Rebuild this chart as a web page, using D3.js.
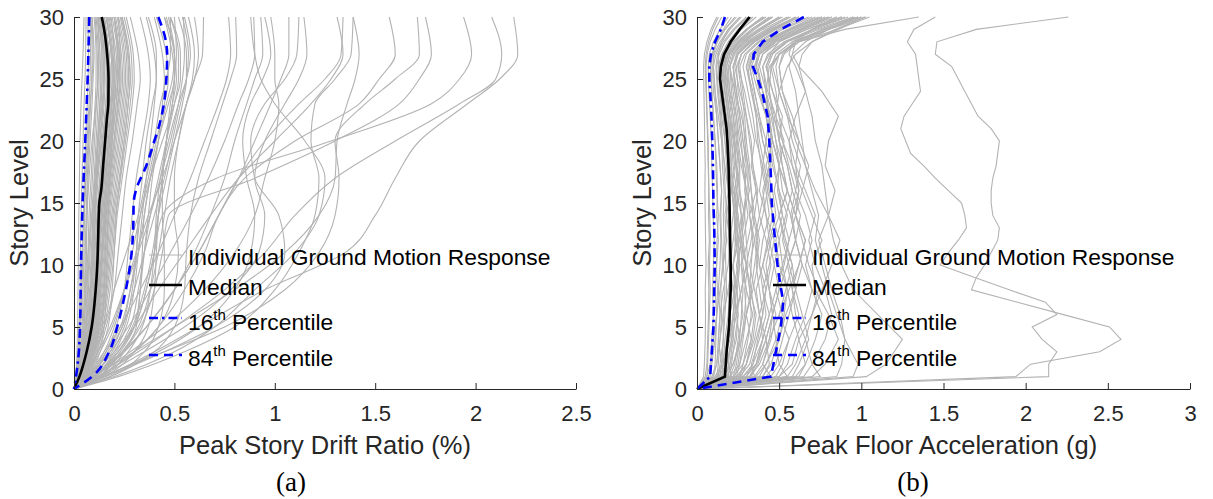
<!DOCTYPE html>
<html><head><meta charset="utf-8">
<script src="https://cdn.jsdelivr.net/npm/d3@7/dist/d3.min.js"></script>
<style>
html,body{margin:0;padding:0;background:#fff;}
svg{display:block;}
</style></head>
<body>
<svg id="chart" width="1213" height="499"></svg>
<script>
// ---------------- DATA ----------------
const storyTicks = [0,5,10,15,20,25,30];
const storyTickLabels = ["0","5","10","15","20","25","30"];
const driftTicks = [0,0.5,1,1.5,2,2.5];
const driftTickLabels = ["0","0.5","1","1.5","2","2.5"];
const accelTicks = [0,0.5,1,1.5,2,2.5,3];
const accelTickLabels = ["0","0.5","1","1.5","2","2.5","3"];

// (a) Peak story drift ratio (%) — individual ground motions, at these story levels
const driftLevels = [0,1,3,5,8,11,14,17,20,23,25,27,30];
const driftBand = [
  [0,.01,.015,.018,.02,.022,.024,.027,.03,.035,.04,.045,.05],
  [0,.012,.02,.025,.03,.032,.035,.04,.045,.05,.055,.058,.06],
  [0,.012,.025,.033,.04,.044,.047,.052,.058,.066,.07,.072,.068],
  [0,.015,.03,.04,.045,.05,.052,.058,.065,.075,.08,.082,.08],
  [0,.016,.032,.044,.052,.056,.06,.066,.074,.083,.088,.09,.085],
  [0,.018,.035,.05,.058,.062,.065,.07,.08,.09,.095,.1,.09],
  [0,.02,.04,.055,.065,.07,.075,.085,.095,.105,.11,.11,.1],
  [0,.021,.042,.058,.068,.075,.082,.092,.102,.112,.118,.116,.105],
  [0,.022,.045,.062,.072,.08,.088,.1,.11,.12,.125,.122,.11],
  [0,.024,.048,.066,.078,.086,.094,.105,.116,.128,.133,.13,.115],
  [0,.025,.05,.07,.082,.09,.1,.11,.122,.135,.14,.138,.12],
  [0,.027,.054,.074,.086,.095,.104,.115,.128,.142,.148,.145,.126],
  [0,.028,.058,.078,.09,.1,.108,.12,.135,.15,.155,.15,.13],
  [0,.029,.06,.082,.096,.105,.114,.128,.142,.158,.163,.158,.138],
  [0,.03,.062,.085,.1,.11,.12,.135,.15,.165,.17,.165,.145],
  [0,.031,.065,.089,.105,.115,.125,.141,.158,.172,.18,.175,.152],
  [0,.032,.068,.092,.11,.12,.13,.148,.165,.18,.19,.185,.16],
  [0,.034,.071,.096,.114,.125,.136,.154,.171,.188,.195,.19,.165],
  [0,.035,.075,.1,.118,.13,.142,.16,.178,.195,.2,.195,.17],
  [0,.036,.078,.104,.123,.135,.147,.165,.184,.202,.209,.202,.175],
  [0,.038,.08,.108,.128,.14,.152,.17,.19,.21,.218,.21,.18],
  [0,.039,.082,.111,.131,.145,.158,.177,.198,.217,.226,.219,.19],
  [0,.04,.085,.115,.135,.15,.165,.185,.205,.225,.235,.228,.2],
  [0,.041,.087,.117,.14,.155,.17,.19,.212,.232,.242,.236,.207],
  [0,.042,.09,.12,.145,.16,.175,.195,.22,.24,.25,.245,.215],
  [0,.044,.092,.124,.15,.166,.181,.202,.227,.247,.257,.252,.222],
  [0,.045,.095,.128,.155,.172,.188,.21,.235,.255,.265,.26,.23],
  [0,.047,.097,.13,.16,.178,.194,.217,.242,.262,.272,.267,.235],
  [0,.05,.1,.135,.165,.185,.2,.225,.25,.27,.28,.275,.24],
  [0,.052,.105,.142,.172,.192,.207,.232,.257,.28,.29,.285,.25],
  [0,.055,.11,.15,.18,.2,.215,.24,.265,.29,.3,.295,.26],
  [0,.06,.12,.16,.2,.22,.24,.26,.29,.315,.33,.32,.28],
  [0,.05,.12,.15,.16,.165,.17,.18,.19,.2,.2,.19,.16],
  [0,.03,.05,.06,.08,.1,.12,.15,.18,.2,.22,.23,.22],
  [0,.02,.04,.05,.06,.07,.09,.11,.14,.16,.17,.17,.15],
  [0,.04,.07,.09,.1,.1,.105,.11,.12,.13,.14,.14,.12],
  [0,.06,.1,.12,.13,.14,.15,.16,.17,.185,.19,.185,.16],
  [0,.025,.06,.09,.12,.14,.16,.18,.2,.22,.23,.225,.2],
  [0,.015,.025,.03,.035,.04,.05,.06,.07,.08,.09,.095,.09],
  [0,.035,.065,.08,.09,.095,.1,.115,.13,.145,.15,.15,.13],
  [0,.07,.13,.17,.19,.2,.21,.23,.25,.27,.28,.27,.24],
  [0,.02,.035,.045,.055,.06,.065,.075,.09,.11,.12,.125,.12],
  [0,.03,.07,.1,.125,.14,.155,.17,.185,.2,.21,.215,.2],
  [0,.045,.08,.1,.11,.115,.12,.13,.145,.16,.165,.16,.14],
  [0,.02,.05,.075,.1,.12,.14,.16,.175,.19,.2,.2,.185],
  [0,.05,.09,.11,.12,.125,.135,.15,.16,.175,.18,.175,.15],
  [0,.065,.115,.14,.15,.155,.16,.175,.19,.21,.22,.22,.2],
  [0,.038,.06,.075,.085,.09,.095,.105,.12,.14,.15,.155,.145]
];
const driftMid = [
  [0,.08,.16,.21,.25,.27,.29,.31,.34,.37,.38,.37,.33],
  [0,.09,.19,.25,.29,.31,.32,.34,.36,.39,.41,.41,.37],
  [0,.1,.2,.26,.3,.32,.34,.36,.38,.4,.41,.4,.36],
  [0,.13,.25,.31,.33,.35,.37,.39,.42,.44,.45,.44,.4],
  [0,.09,.18,.24,.28,.31,.33,.37,.41,.45,.47,.46,.41],
  [0,.07,.16,.23,.28,.32,.35,.38,.42,.46,.49,.5,.47],
  [0,.12,.23,.3,.33,.34,.35,.38,.42,.47,.5,.5,.45],
  [0,.1,.21,.28,.32,.35,.38,.42,.46,.5,.52,.52,.48],
  [0,.15,.3,.37,.4,.41,.42,.44,.46,.49,.51,.5,.46],
  [0,.07,.15,.2,.25,.29,.33,.38,.44,.5,.53,.53,.48],
  [0,.08,.17,.24,.3,.35,.4,.45,.49,.53,.56,.57,.54],
  [0,.11,.22,.29,.35,.39,.42,.46,.5,.54,.56,.56,.52],
  [0,.12,.24,.32,.38,.42,.45,.48,.52,.56,.59,.6,.57],
  [0,.14,.27,.34,.38,.4,.41,.43,.47,.52,.56,.58,.55],
  [0,.18,.35,.42,.45,.45,.44,.44,.46,.49,.5,.49,.45],
  [0,.06,.13,.19,.25,.31,.37,.44,.5,.56,.6,.62,.6]
];
const driftWide = [
  [0,.15,.4,.62,.95,1.35,1.5,1.6,1.72,1.96,2.12,2.21,2.19],
  [0,.12,.32,.5,.75,.95,1.1,1.3,1.6,1.92,2.1,2.13,2.08],
  [0,.1,.22,.3,.36,.4,.44,.71,1.28,1.78,1.92,1.98,1.94],
  [0,.1,.24,.33,.4,.44,.47,.9,1.3,1.62,1.72,1.78,1.75],
  [0,.14,.45,.75,1.05,1.22,1.3,1.32,1.3,1.45,1.6,1.72,1.71],
  [0,.12,.3,.42,.55,.65,.72,.85,1.1,1.42,1.52,1.6,1.57],
  [0,.1,.3,.5,.8,1.05,1.22,1.3,1.31,1.36,1.4,1.42,1.39],
  [0,.08,.2,.3,.42,.55,.68,.82,1.0,1.18,1.28,1.34,1.31],
  [0,.1,.25,.36,.5,.62,.72,.82,.95,1.12,1.25,1.33,1.34],
  [0,.1,.28,.45,.65,.8,.9,.95,1.0,1.02,1.0,1.0,.98],
  [0,.1,.25,.36,.5,.62,.72,.82,.9,.98,1.03,1.07,1.07],
  [0,.15,.42,.62,.8,.88,.9,.86,.84,.88,.94,.98,.95],
  [0,.07,.18,.27,.38,.48,.58,.67,.75,.82,.87,.9,.895],
  [0,.2,.5,.7,.9,1.1,1.22,1.25,1.15,1.0,.93,.9,.88],
  [0,.06,.15,.23,.33,.42,.5,.58,.65,.72,.76,.78,.77],
  [0,.18,.4,.5,.55,.56,.58,.62,.68,.74,.78,.81,.805],
  [0,.12,.3,.42,.5,.52,.5,.5,.52,.56,.6,.64,.645],
  [0,.05,.12,.18,.25,.32,.38,.43,.48,.52,.54,.55,.545],
  [0,.1,.22,.3,.36,.4,.42,.44,.46,.48,.5,.51,.5],
  [0,.05,.1,.15,.2,.26,.32,.36,.4,.43,.46,.48,.48],
  [0,.13,.35,.55,.78,.92,.95,.9,.95,1.05,1.12,1.16,1.145],
  [0,.09,.24,.36,.5,.6,.68,.75,.8,.86,.9,.94,.93],
  [0,.16,.45,.7,.95,1.05,1.02,.9,.88,.95,1.05,1.11,1.12],
  [0,.22,.55,.8,1.0,1.12,1.2,1.22,1.18,1.2,1.3,1.38,1.39]
];
const driftMedianLevels = [0,1,3,5,8,10,12,15,16,18,20,22,23,25,27,29,30];
const driftMedian = [0,.027,.063,.088,.108,.116,.12,.126,.135,.145,.155,.165,.171,.172,.165,.15,.138];
const driftP16Levels = [0,1,2,3,5,10,15,20,25,30];
const driftP16 = [0,.01,.018,.024,.03,.035,.043,.056,.068,.076];
const driftP84Levels = [0,1,3,5,7,9,11,13,15,16,18,20,21,23,25,27,28,30];
const driftP84 = [0,.09,.175,.215,.245,.27,.287,.295,.297,.308,.36,.4,.42,.448,.46,.464,.458,.42];

// (b) Peak floor acceleration (g)
const accelLevels = [0,1,2,4,6,8,10,12,14,16,18,20,22,24,26,27,28,29,30];
const accelBand = [
  [0,.04,.045,.05,.052,.05,.055,.052,.05,.048,.05,.047,.045,.042,.04,.045,.06,.085,.12],
  [0,.05,.06,.065,.07,.072,.068,.075,.07,.072,.068,.065,.06,.055,.05,.055,.07,.095,.13],
  [0,.06,.065,.07,.075,.08,.076,.08,.078,.072,.07,.068,.062,.058,.055,.062,.08,.11,.15],
  [0,.07,.09,.11,.12,.11,.12,.13,.12,.125,.12,.11,.1,.09,.08,.09,.12,.17,.24],
  [0,.08,.085,.09,.1,.095,.1,.105,.098,.095,.09,.088,.08,.072,.068,.075,.1,.14,.19],
  [0,.06,.08,.1,.12,.14,.16,.18,.17,.19,.17,.15,.13,.11,.1,.1,.12,.16,.21],
  [0,.1,.11,.115,.12,.125,.118,.122,.13,.12,.115,.11,.1,.09,.085,.095,.125,.17,.23],
  [0,.1,.12,.13,.14,.13,.14,.145,.14,.15,.14,.13,.12,.1,.095,.105,.14,.19,.26],
  [0,.09,.12,.14,.16,.19,.21,.2,.22,.23,.2,.19,.17,.15,.13,.13,.15,.19,.26],
  [0,.12,.13,.14,.15,.145,.155,.15,.145,.15,.14,.13,.12,.11,.1,.115,.15,.2,.27],
  [0,.13,.14,.16,.16,.17,.16,.165,.16,.165,.155,.15,.14,.125,.115,.125,.16,.22,.3],
  [0,.14,.15,.16,.17,.18,.175,.17,.18,.172,.165,.155,.145,.13,.12,.135,.17,.23,.31],
  [0,.15,.16,.17,.19,.2,.2,.19,.2,.19,.18,.17,.16,.14,.13,.15,.19,.25,.33],
  [0,.13,.18,.22,.2,.19,.22,.25,.27,.24,.26,.23,.2,.18,.17,.17,.2,.26,.34],
  [0,.16,.17,.18,.2,.195,.21,.2,.19,.2,.19,.18,.165,.15,.14,.155,.2,.27,.36],
  [0,.16,.2,.24,.25,.22,.2,.22,.24,.21,.2,.2,.18,.16,.15,.17,.22,.3,.4],
  [0,.18,.19,.21,.22,.23,.22,.235,.225,.215,.21,.2,.19,.17,.16,.18,.23,.31,.41],
  [0,.17,.15,.13,.14,.16,.19,.2,.18,.2,.19,.17,.15,.14,.13,.16,.22,.3,.42],
  [0,.19,.2,.22,.23,.24,.25,.24,.23,.24,.22,.21,.2,.18,.17,.19,.25,.34,.45],
  [0,.2,.21,.23,.25,.245,.26,.25,.24,.25,.235,.225,.21,.19,.18,.2,.26,.35,.46],
  [0,.21,.19,.18,.2,.23,.26,.23,.25,.22,.21,.2,.19,.17,.16,.19,.26,.37,.5],
  [0,.22,.24,.26,.27,.28,.27,.28,.27,.26,.26,.245,.23,.21,.2,.22,.29,.39,.51],
  [0,.23,.25,.27,.29,.3,.28,.26,.28,.3,.27,.25,.24,.22,.2,.22,.28,.38,.5],
  [0,.11,.15,.19,.23,.27,.3,.27,.29,.26,.24,.23,.22,.2,.19,.21,.28,.4,.55],
  [0,.24,.26,.28,.3,.29,.31,.3,.29,.3,.28,.27,.25,.23,.22,.245,.32,.43,.56],
  [0,.24,.3,.34,.36,.32,.3,.33,.35,.33,.31,.28,.26,.24,.22,.24,.31,.44,.6],
  [0,.26,.28,.31,.33,.32,.33,.34,.32,.31,.31,.29,.28,.25,.24,.27,.35,.47,.62],
  [0,.15,.22,.27,.3,.33,.3,.28,.31,.29,.3,.28,.26,.24,.22,.25,.32,.45,.62],
  [0,.27,.3,.33,.35,.33,.35,.37,.34,.33,.32,.3,.29,.27,.25,.27,.34,.46,.6],
  [0,.3,.34,.37,.4,.38,.36,.38,.35,.37,.34,.33,.3,.28,.26,.29,.37,.5,.68],
  [0,.18,.22,.26,.24,.27,.3,.26,.28,.32,.29,.26,.24,.2,.18,.2,.27,.38,.52],
  [0,.2,.26,.3,.34,.3,.27,.31,.34,.3,.28,.3,.27,.23,.2,.23,.3,.42,.57],
  [0,.22,.28,.33,.3,.34,.37,.35,.32,.36,.34,.32,.3,.26,.23,.25,.33,.46,.62],
  [0,.12,.16,.2,.22,.24,.22,.25,.23,.21,.23,.21,.19,.17,.15,.17,.22,.3,.4],
  [0,.25,.3,.35,.38,.35,.32,.35,.38,.36,.33,.35,.32,.29,.25,.27,.35,.48,.65],
  [0,.2,.23,.25,.28,.26,.24,.27,.25,.23,.25,.24,.22,.19,.17,.19,.25,.34,.46],
  [0,.15,.18,.21,.24,.22,.25,.27,.24,.26,.24,.22,.2,.18,.16,.18,.24,.33,.44]
];
const accelMid = [
  [0,.35,.4,.45,.48,.44,.47,.5,.46,.43,.45,.42,.38,.35,.32,.34,.42,.57,.76],
  [0,.38,.42,.5,.53,.55,.5,.48,.52,.5,.46,.44,.42,.38,.35,.37,.45,.62,.82],
  [0,.42,.48,.52,.56,.6,.58,.53,.5,.55,.52,.48,.45,.4,.37,.4,.5,.67,.88],
  [0,.45,.5,.56,.62,.58,.55,.6,.57,.52,.5,.53,.48,.43,.4,.43,.53,.7,.92],
  [0,.5,.55,.6,.66,.7,.64,.6,.63,.58,.55,.5,.52,.46,.42,.45,.55,.74,.98],
  [0,.55,.6,.66,.7,.74,.68,.64,.6,.62,.6,.56,.5,.48,.45,.48,.58,.77,1.0],
  [0,.6,.66,.72,.76,.7,.66,.7,.66,.6,.63,.58,.55,.5,.48,.5,.6,.8,1.03],
  [0,.65,.7,.78,.82,.78,.72,.68,.72,.66,.6,.62,.58,.52,.5,.53,.62,.8,1.0],
  [0,.95,.98,.9,.85,.8,.76,.72,.74,.7,.66,.64,.62,.6,.56,.58,.66,.8,.96],
  [0,1.03,1.15,1.25,1.1,.95,.88,.83,.8,.78,.76,.72,.7,.66,.62,.64,.7,.84,1.02],
  [0,.85,.88,.9,.87,.82,.78,.74,.8,.84,.78,.8,.86,.76,.62,.58,.6,.7,.85],
  [0,.45,.4,.44,.5,.56,.62,.66,.6,.55,.5,.48,.46,.44,.45,.5,.62,.85,1.05],
  [0,.32,.36,.4,.44,.48,.52,.5,.54,.58,.55,.5,.47,.44,.43,.46,.55,.7,.9],
  [0,.28,.36,.42,.46,.5,.55,.6,.58,.62,.58,.52,.46,.42,.38,.4,.48,.63,.8],
  [0,.55,.5,.48,.46,.44,.42,.45,.5,.55,.52,.5,.48,.5,.55,.6,.7,.86,1.02],
  [0,.75,.7,.66,.6,.58,.62,.66,.6,.55,.5,.46,.44,.42,.4,.44,.5,.64,.82],
  [0,.4,.45,.5,.54,.6,.56,.52,.55,.5,.47,.45,.44,.42,.44,.5,.62,.9,1.35],
  [0,.5,.58,.62,.7,.76,.82,.87,.8,.72,.66,.6,.56,.52,.5,.52,.6,.76,.95],
  [0,.35,.33,.38,.42,.4,.38,.4,.44,.42,.39,.37,.36,.34,.3,.32,.4,.55,.72],
  [0,.62,.66,.62,.58,.55,.52,.56,.6,.64,.68,.62,.55,.5,.46,.5,.6,.78,.98],
  [0,.4,.44,.42,.38,.36,.4,.44,.42,.38,.4,.42,.44,.4,.36,.38,.46,.6,.78],
  [0,.7,.78,.86,.8,.72,.7,.76,.7,.64,.58,.56,.6,.66,.6,.56,.58,.7,.88],
  [0,.26,.32,.36,.4,.42,.38,.36,.4,.43,.4,.36,.34,.31,.28,.3,.38,.52,.7],
  [0,.28,.34,.4,.44,.4,.44,.47,.42,.4,.44,.4,.37,.33,.3,.33,.41,.56,.74],
  [0,.32,.38,.44,.46,.5,.47,.44,.48,.46,.42,.46,.42,.37,.33,.36,.44,.6,.8],
  [0,.3,.36,.4,.38,.42,.45,.42,.38,.41,.44,.4,.38,.35,.32,.35,.43,.58,.76],
  [0,.36,.42,.48,.52,.48,.53,.56,.52,.49,.5,.46,.44,.4,.36,.38,.47,.64,.85],
  [0,.48,.52,.56,.5,.54,.58,.54,.5,.47,.5,.46,.42,.38,.35,.38,.48,.66,.88],
  [0,.33,.37,.42,.46,.44,.4,.43,.46,.44,.41,.38,.36,.33,.31,.34,.42,.57,.76],
  [0,.58,.62,.68,.64,.6,.64,.6,.57,.6,.56,.52,.5,.46,.42,.45,.54,.72,.95]
];
const accelOutlierLevels = [0,1,2,3,4,5,6,7,8,9,10,11,12,13,14,15,16,17,18,19,20,21,22,23,24,25,26,27,28,29,30];
const accelOutlier1 = [0,1.94,2.03,2.45,2.58,2.51,2.23,1.95,1.67,1.70,1.75,1.79,1.83,1.84,1.80,1.79,1.79,1.80,1.82,1.83,1.84,1.79,1.71,1.67,1.63,1.59,1.55,1.45,1.46,1.70,2.26];
const accelOutlier2 = [0,2.14,2.14,2.19,2.10,2.04,2.19,2.12,1.90,1.69,1.48,1.53,1.59,1.64,1.63,1.61,1.53,1.45,1.38,1.30,1.27,1.24,1.26,1.31,1.36,1.35,1.34,1.33,1.28,1.32,1.45];
const accelMedianLevels = [0,1,3,5,8,10,13,15,18,20,21,23,25,26,27,28,29,30];
const accelMedian = [0,.17,.18,.195,.205,.205,.2,.198,.192,.185,.18,.16,.14,.145,.165,.205,.26,.32];
const accelP16Levels = [0,1,3,5,8,10,13,15,18,20,22,24,25,26,27,28,29,30];
const accelP16 = [0,.08,.09,.1,.105,.108,.105,.1,.097,.093,.088,.08,.075,.075,.085,.11,.145,.17];
const accelP84Levels = [0,1,3,5,7,9,10,12,15,17,20,22,24,25,26,27,28,29,30];
const accelP84 = [0,.45,.48,.51,.525,.5,.49,.475,.455,.45,.44,.43,.395,.37,.34,.345,.4,.51,.65];

const legendNames = ["Individual Ground Motion Response","Median","16","84"];

// ---------------- DRAW ----------------
const FONT = '"Liberation Sans", Arial, Helvetica, sans-serif';
const SERIF = '"Liberation Serif", "Times New Roman", serif';
const GRAY = "#b3b3b3", BLUE = "#0000ff", AX = "#262626";
const svg = d3.select("#chart");
const y = d3.scaleLinear().domain([0,30]).range([389,17]);

function drawPanel(o){
  const x = o.x;
  const g = svg.append("g");
  const mk = (curve) => d3.line().x(d=>x(d[0])).y(d=>y(d[1])).curve(curve);
  const pts = (levels, vals) => levels.map((l,i)=>[vals[i], l]).reverse();
  const curve = o.smooth ? d3.curveMonotoneY : d3.curveLinear;
  o.gray.forEach(set => set.curves.forEach(v => {
    g.append("path").attr("d", mk(curve)(pts(set.levels, v)))
      .attr("fill","none").attr("stroke",GRAY).attr("stroke-width",1.1);
  }));
  g.append("path").attr("d", mk(curve)(pts(o.medLevels,o.med)))
    .attr("fill","none").attr("stroke","#000").attr("stroke-width",2.6);
  g.append("path").attr("d", mk(curve)(pts(o.p16Levels,o.p16)))
    .attr("fill","none").attr("stroke",BLUE).attr("stroke-width",2.6).attr("stroke-dasharray","9,4,2.5,4");
  g.append("path").attr("d", mk(curve)(pts(o.p84Levels,o.p84)))
    .attr("fill","none").attr("stroke",BLUE).attr("stroke-width",2.6).attr("stroke-dasharray","9,6");

  // axes
  const gx = svg.append("g").attr("transform",`translate(0,${y(0)})`)
    .call(d3.axisBottom(x).tickValues(o.ticks).tickFormat((d,i)=>o.tickLabels[i])
      .tickSizeInner(-6).tickSizeOuter(0).tickPadding(16));
  const gy = svg.append("g").attr("transform",`translate(${x(0)},0)`)
    .call(d3.axisLeft(y).tickValues(storyTicks).tickFormat((d,i)=>storyTickLabels[i])
      .tickSizeInner(-6).tickSizeOuter(0).tickPadding(10));
  [gx,gy].forEach(a=>{
    a.select(".domain").attr("stroke",AX).attr("stroke-width",1);
    a.selectAll(".tick line").attr("stroke",AX);
    a.selectAll("text").attr("font-family",FONT).attr("font-size",22).attr("fill",AX);
  });

  // labels
  const xc = (x.range()[0]+x.range()[1])/2;
  svg.append("text").attr("x",xc).attr("y",454).attr("text-anchor","middle")
    .attr("font-family",FONT).attr("font-size",25.5).attr("fill",AX).text(o.xlabel);
  svg.append("text").attr("transform",`translate(${o.ylabX},203) rotate(-90)`).attr("text-anchor","middle")
    .attr("font-family",FONT).attr("font-size",25.5).attr("fill",AX).text("Story Level");
  svg.append("text").attr("x",o.capX).attr("y",491).attr("text-anchor","middle")
    .attr("font-family",SERIF).attr("font-size",27).attr("fill","#000").text(o.caption);

  // legend
  const lg = svg.append("g");
  const lx0 = o.legX, lx1 = o.legX+33, tx = o.legX+39;
  const sampleY = [255,285,318,355];
  const textY = [265,295,330,366];
  const styles = [
    {stroke:GRAY, w:1.1, dash:null},
    {stroke:"#000", w:2.6, dash:null},
    {stroke:BLUE, w:2.6, dash:"9,4,2.5,4"},
    {stroke:BLUE, w:2.6, dash:"9,6"}
  ];
  styles.forEach((s,i)=>{
    const l = lg.append("line").attr("x1",lx0).attr("x2",lx1).attr("y1",sampleY[i]).attr("y2",sampleY[i])
      .attr("stroke",s.stroke).attr("stroke-width",s.w);
    if (s.dash) l.attr("stroke-dasharray",s.dash);
    const t = lg.append("text").attr("x",tx).attr("y",textY[i]).attr("font-family",FONT)
      .attr("font-size",22.8).attr("fill","#000");
    if (i<2) t.text(legendNames[i]);
    else {
      t.append("tspan").text(legendNames[i]);
      t.append("tspan").attr("dy",-10).attr("font-size",15).text("th");
      t.append("tspan").attr("dy",10).attr("dx",6).text("Percentile");
    }
  });
}

drawPanel({
  x: d3.scaleLinear().domain([0,2.5]).range([74,576]),
  smooth: true,
  gray: [{levels:driftLevels,curves:driftBand},{levels:driftLevels,curves:driftMid},{levels:driftLevels,curves:driftWide}],
  medLevels: driftMedianLevels, med: driftMedian,
  p16Levels: driftP16Levels, p16: driftP16,
  p84Levels: driftP84Levels, p84: driftP84,
  ticks: driftTicks, tickLabels: driftTickLabels,
  xlabel: "Peak Story Drift Ratio (%)", ylabX: 28, capX: 291, caption: "(a)", legX: 149
});
drawPanel({
  x: d3.scaleLinear().domain([0,3]).range([697,1190]),
  smooth: false,
  gray: [{levels:accelLevels,curves:accelBand},{levels:accelLevels,curves:accelMid},
         {levels:accelOutlierLevels,curves:[accelOutlier1,accelOutlier2]}],
  medLevels: accelMedianLevels, med: accelMedian,
  p16Levels: accelP16Levels, p16: accelP16,
  p84Levels: accelP84Levels, p84: accelP84,
  ticks: accelTicks, tickLabels: accelTickLabels,
  xlabel: "Peak Floor Acceleration (g)", ylabX: 651, capX: 913, caption: "(b)", legX: 773
});
</script>
</body></html>
